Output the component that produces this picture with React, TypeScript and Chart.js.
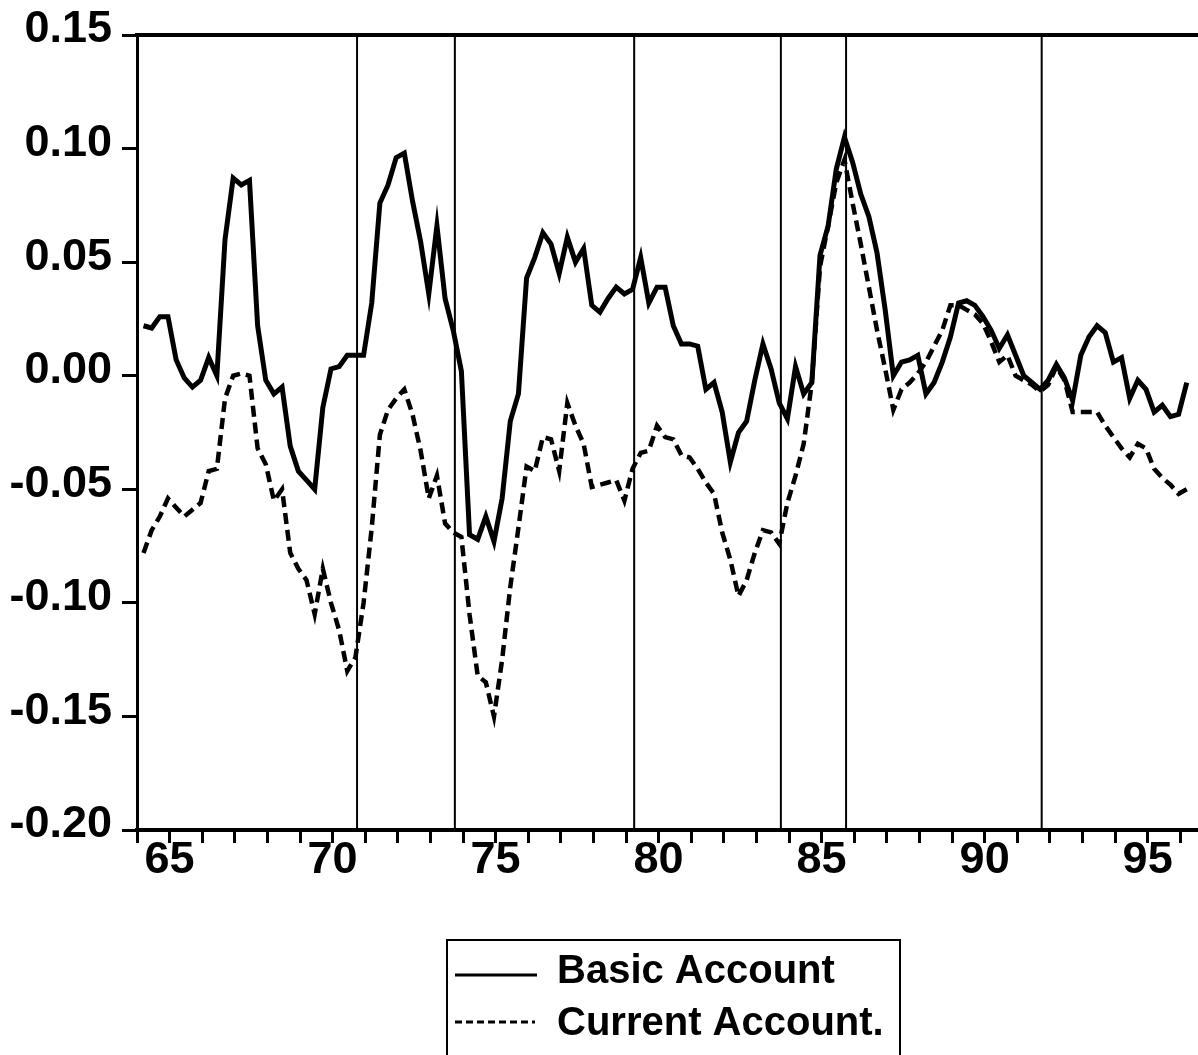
import { useEffect, useRef } from 'react';
import { Chart, registerables } from 'chart.js';

Chart.register(...registerables);

const FONT = '"Liberation Sans", Arial, sans-serif';

// Quarterly observations (first point plotted at 64.2, quarterly steps)
const startYear = 64.2;
const quarterStep = 0.25;

const basicAccount = [
  0.022, 0.021, 0.026, 0.026, 0.007, -0.001, -0.005, -0.002, 0.008, 0.000,
  0.060, 0.087, 0.084, 0.086, 0.022, -0.002, -0.008, -0.005, -0.031, -0.042,
  -0.046, -0.050, -0.014, 0.003, 0.004, 0.009, 0.009, 0.009, 0.032, 0.076,
  0.084, 0.096, 0.098, 0.077, 0.059, 0.036, 0.066, 0.034, 0.020, 0.002,
  -0.070, -0.072, -0.062, -0.073, -0.054, -0.020, -0.008, 0.043, 0.052, 0.063,
  0.058, 0.045, 0.061, 0.050, 0.056, 0.031, 0.028, 0.034, 0.039, 0.036,
  0.038, 0.052, 0.032, 0.039, 0.039, 0.022, 0.014, 0.014, 0.013, -0.006,
  -0.003, -0.016, -0.038, -0.025, -0.020, -0.002, 0.014, 0.003, -0.012, -0.019,
  0.004, -0.008, -0.003, 0.053, 0.066, 0.091, 0.105, 0.094, 0.080, 0.070,
  0.054, 0.029, 0.000, 0.006, 0.007, 0.009, -0.008, -0.003, 0.006, 0.017,
  0.032, 0.033, 0.031, 0.026, 0.020, 0.012, 0.018, 0.009, 0.000, -0.003,
  -0.006, -0.002, 0.005, -0.001, -0.011, 0.009, 0.017, 0.022, 0.019, 0.006,
  0.008, -0.010, -0.002, -0.006, -0.016, -0.013, -0.018, -0.017, -0.003,
];

const currentAccount = [
  -0.078, -0.068, -0.062, -0.054, -0.058, -0.062, -0.059, -0.056, -0.042, -0.041,
  -0.010, 0.000, 0.001, 0.000, -0.032, -0.039, -0.055, -0.050, -0.078, -0.085,
  -0.090, -0.105, -0.085, -0.100, -0.112, -0.130, -0.124, -0.100, -0.067, -0.026,
  -0.015, -0.010, -0.006, -0.017, -0.033, -0.054, -0.044, -0.065, -0.069, -0.071,
  -0.105, -0.132, -0.135, -0.150, -0.125, -0.093, -0.067, -0.040, -0.042, -0.027,
  -0.028, -0.042, -0.012, -0.022, -0.030, -0.049, -0.048, -0.047, -0.046, -0.055,
  -0.041, -0.034, -0.033, -0.022, -0.027, -0.028, -0.035, -0.036, -0.041, -0.047,
  -0.052, -0.069, -0.081, -0.097, -0.090, -0.078, -0.068, -0.069, -0.074, -0.056,
  -0.044, -0.030, -0.003, 0.048, 0.066, 0.085, 0.095, 0.076, 0.058, 0.039,
  0.020, 0.003, -0.015, -0.006, -0.003, 0.001, 0.006, 0.013, 0.020, 0.031,
  0.031, 0.029, 0.027, 0.023, 0.015, 0.006, 0.009, 0.000, -0.002, -0.004,
  -0.007, -0.004, 0.004, -0.002, -0.016, -0.016, -0.016, -0.016, -0.022, -0.027,
  -0.032, -0.036, -0.030, -0.032, -0.041, -0.045, -0.048, -0.052, -0.050,
];

const breakDates = [70.75, 73.75, 79.25, 83.75, 85.75, 91.75];
const xLabelYears = [65, 70, 75, 80, 85, 90, 95];
const seriesNames = ['Basic Account', 'Current Account.'];

const quarterX = basicAccount.map((_, i) => startYear + i * quarterStep);

const decor = {
  id: 'decor',
  beforeDatasetsDraw(chart: any) {
    const { ctx, chartArea, scales } = chart;
    ctx.save();
    ctx.strokeStyle = '#000';
    ctx.lineWidth = 2;
    breakDates.forEach((d) => {
      const x = scales.x.getPixelForValue(d);
      ctx.beginPath();
      ctx.moveTo(x, chartArea.top);
      ctx.lineTo(x, chartArea.bottom);
      ctx.stroke();
    });
    ctx.lineWidth = 4;
    ctx.beginPath();
    ctx.moveTo(chartArea.left - 2, chartArea.top);
    ctx.lineTo(chartArea.right, chartArea.top);
    ctx.stroke();
    ctx.restore();
  },
  afterDraw(chart: any) {
    const { ctx } = chart;
    ctx.save();
    ctx.strokeStyle = '#000';
    ctx.lineWidth = 2;
    ctx.strokeRect(447, 940, 453, 140);
    ctx.lineWidth = 3;
    ctx.beginPath();
    ctx.moveTo(455, 975);
    ctx.lineTo(537, 975);
    ctx.stroke();
    ctx.setLineDash([7, 4]);
    ctx.beginPath();
    ctx.moveTo(455, 1022);
    ctx.lineTo(535, 1022);
    ctx.stroke();
    ctx.setLineDash([]);
    ctx.fillStyle = '#000';
    ctx.font = `bold 40px ${FONT}`;
    ctx.textBaseline = 'alphabetic';
    ctx.textAlign = 'left';
    ctx.fillText(seriesNames[0], 557, 983);
    ctx.fillText(seriesNames[1], 557, 1035);
    ctx.restore();
  },
};

const fmtY = (v: any) => {
  const n = Number(v);
  const s = (Math.abs(n) < 1e-9 ? 0 : n).toFixed(2);
  return s === '-0.00' ? '0.00' : s;
};

export default function App() {
  const ref = useRef<HTMLCanvasElement>(null);
  useEffect(() => {
    const chart = new Chart(ref.current!, {
      type: 'line',
      data: {
        datasets: [
          {
            label: seriesNames[0],
            data: basicAccount.map((v, i) => ({ x: quarterX[i], y: v })),
            borderColor: '#000',
            borderWidth: 5,
            pointRadius: 0,
            tension: 0,
          },
          {
            label: seriesNames[1],
            data: currentAccount.map((v, i) => ({ x: quarterX[i], y: v })),
            borderColor: '#000',
            borderWidth: 4.5,
            borderDash: [11, 6],
            pointRadius: 0,
            tension: 0,
          },
        ],
      },
      options: {
        responsive: false,
        animation: false,
        layout: { padding: { top: 35, left: 0, right: 0, bottom: 0 } },
        plugins: { legend: { display: false }, tooltip: { enabled: false } },
        scales: {
          x: {
            type: 'linear',
            min: 64,
            max: 96.545,
            ticks: {
              stepSize: 1,
              autoSkip: false,
              includeBounds: false,
              maxRotation: 0,
              color: '#000',
              padding: -5,
              font: { family: FONT, size: 45, weight: 'bold', lineHeight: 1 },
              callback: (v: any) => {
                const r = Math.round(Number(v));
                return Math.abs(Number(v) - r) < 1e-6 && xLabelYears.includes(r) ? String(r) : '';
              },
            },
            grid: { drawOnChartArea: false, tickLength: 13, tickWidth: 3, tickColor: '#000' },
            border: { color: '#000', width: 4 },
            afterFit: (s: any) => {
              s.height = 225;
            },
          },
          y: {
            min: -0.2,
            max: 0.15,
            ticks: {
              stepSize: 0.05,
              color: '#000',
              padding: 10,
              labelOffset: -5,
              font: { family: FONT, size: 45, weight: 'bold', lineHeight: 1 },
              callback: fmtY,
            },
            grid: { drawOnChartArea: false, tickLength: 15, tickWidth: 3, tickColor: '#000' },
            border: { color: '#000', width: 3 },
            afterFit: (s: any) => {
              s.width = 137;
            },
          },
        },
      },
      plugins: [decor],
    });
    return () => chart.destroy();
  }, []);
  return (
    <canvas
      ref={ref}
      width={1198}
      height={1055}
      style={{ position: 'absolute', left: 0, top: 0, background: '#fff' }}
    />
  );
}
